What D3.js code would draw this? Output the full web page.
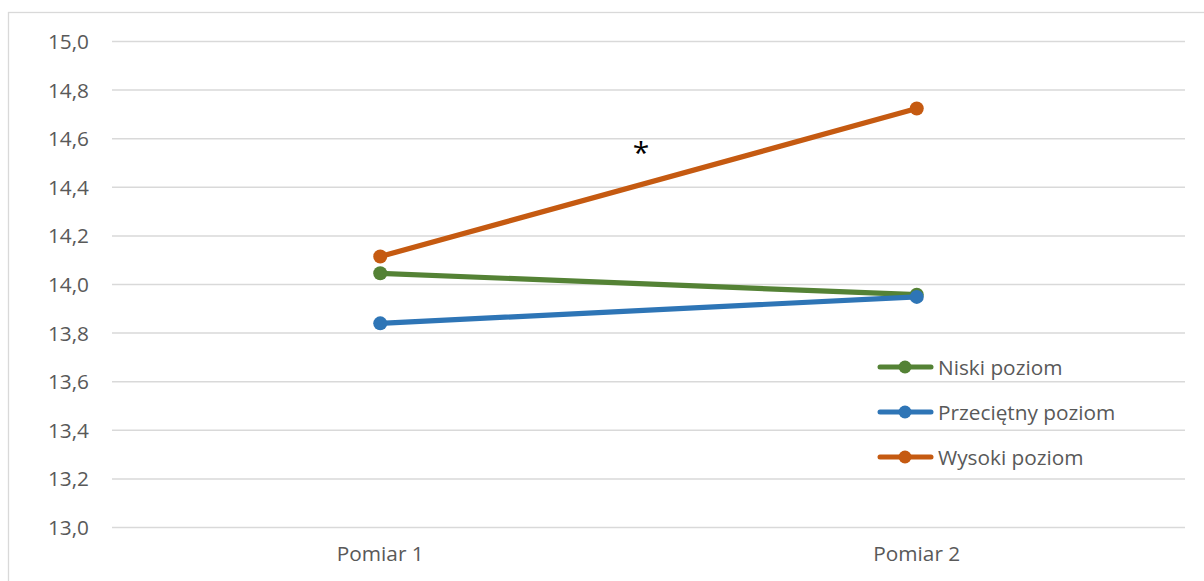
<!DOCTYPE html>
<html>
<head>
<meta charset="utf-8">
<script src="https://cdn.jsdelivr.net/npm/d3@7"></script>
<style>
  html, body { margin: 0; padding: 0; background: #fff; }
  svg { display: block; }
  text { font-family: "Open Sans", sans-serif; fill: #595959; }
</style>
</head>
<body>
<svg id="chart" width="1204" height="581"></svg>
<script>
// Measurement points and group means
const categories = ["Pomiar 1", "Pomiar 2"];
const seriesNames = ["Niski poziom", "Przeciętny poziom", "Wysoki poziom"];
const niskiValues = [14.044, 13.956];
const przecietnyValues = [13.838, 13.947];
const wysokiValues = [14.113, 14.722];
const seriesColors = ["#548235", "#2E75B6", "#C55A11"];
const yTicks = [13.0, 13.2, 13.4, 13.6, 13.8, 14.0, 14.2, 14.4, 14.6, 14.8, 15.0];

const series = [
  { name: seriesNames[0], values: niskiValues, color: seriesColors[0] },
  { name: seriesNames[1], values: przecietnyValues, color: seriesColors[1] },
  { name: seriesNames[2], values: wysokiValues, color: seriesColors[2] }
];

const FONT = "'Open Sans', sans-serif";
const FS = 20.8;

const svg = d3.select("#chart");

// Chart frame
svg.append("rect")
  .attr("x", 8.5).attr("y", 12.5)
  .attr("width", 1240).attr("height", 600)
  .attr("fill", "none").attr("stroke", "#d9d9d9").attr("stroke-width", 1.3);

const plot = { left: 112, right: 1185, top: 41, bottom: 527 };

const x = d3.scaleBand().domain(categories).range([plot.left, plot.right]);
const y = d3.scaleLinear().domain([13, 15]).range([plot.bottom, plot.top]);

// Horizontal gridlines with value labels
const yAxis = d3.axisLeft(y)
  .tickValues(yTicks)
  .tickSize(-(plot.right - plot.left))
  .tickPadding(23)
  .tickFormat(d => d3.format(".1f")(d).replace(".", ","));

const yg = svg.append("g")
  .attr("transform", `translate(${plot.left},0)`)
  .call(yAxis);
yg.select(".domain").remove();
yg.selectAll(".tick line").attr("stroke", "#d9d9d9").attr("stroke-width", 1.5);
yg.selectAll(".tick text")
  .attr("font-size", FS)
  .attr("font-family", FONT)
  .attr("fill", "#595959")
  .attr("dy", "0.36em");

// Category labels
const xAxis = d3.axisBottom(x).tickSize(0).tickPadding(19);
const xg = svg.append("g")
  .attr("transform", `translate(0,${plot.bottom})`)
  .call(xAxis);
xg.select(".domain").remove();
xg.selectAll(".tick text")
  .attr("font-size", FS)
  .attr("font-family", FONT)
  .attr("fill", "#595959");

// Series lines and markers
const line = d3.line()
  .x((d, i) => x(categories[i]) + x.bandwidth() / 2)
  .y(d => y(d));

series.forEach(s => {
  svg.append("path")
    .datum(s.values)
    .attr("d", line)
    .attr("fill", "none")
    .attr("stroke", s.color)
    .attr("stroke-width", 5.2)
    .attr("stroke-linecap", "round");
  svg.selectAll(null)
    .data(s.values)
    .enter().append("circle")
    .attr("cx", (d, i) => x(categories[i]) + x.bandwidth() / 2)
    .attr("cy", d => y(d))
    .attr("r", 7)
    .attr("fill", s.color);
});

// Significance marker
svg.append("text")
  .attr("x", 641).attr("y", 163)
  .attr("text-anchor", "middle")
  .attr("font-size", 30)
  .attr("font-family", "'Liberation Sans', sans-serif")
  .style("fill", "#000")
  .text("*");

// Legend
const legend = svg.append("g");
const legendRows = [367, 412, 457];
series.forEach((s, i) => {
  const g = legend.append("g").attr("transform", `translate(0,${legendRows[i]})`);
  g.append("line")
    .attr("x1", 880).attr("x2", 931)
    .attr("y1", 0).attr("y2", 0)
    .attr("stroke", s.color).attr("stroke-width", 5)
    .attr("stroke-linecap", "round");
  g.append("circle").attr("cx", 905).attr("cy", 0).attr("r", 6.5).attr("fill", s.color);
  g.append("text")
    .attr("x", 938).attr("y", 0)
    .attr("dy", "0.36em")
    .attr("font-size", FS)
    .attr("font-family", FONT)
    .text(s.name);
});
</script>
</body>
</html>
